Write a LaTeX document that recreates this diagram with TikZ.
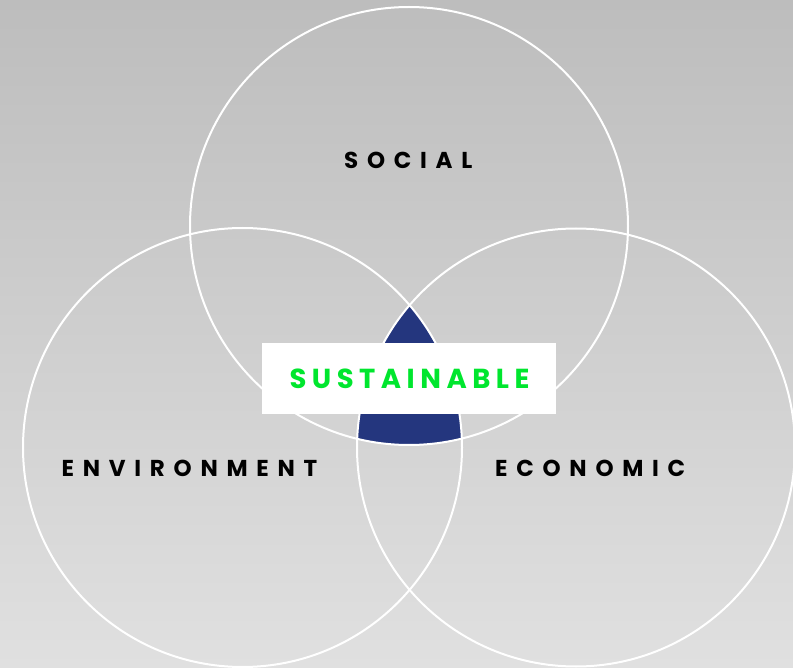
\documentclass[tikz,border=0pt]{standalone}
\usepackage{fontspec}
\newfontfamily\labfont[UprightFont={* Bold},LetterSpace=38]{Poppins}
\newfontfamily\sustfont[UprightFont={* Bold},LetterSpace=20]{Poppins}
\definecolor{bgtop}{HTML}{BDBDBD}
\definecolor{bgbot}{HTML}{E0E0E0}
\definecolor{core}{HTML}{24367E}
\definecolor{sustgreen}{HTML}{00E62E}
\tikzset{
  ring/.style={draw=white, line width=2pt},
  lab/.style={font=\labfont\fontsize{23}{23}\selectfont, text=black, inner sep=0pt},
}
\begin{document}
\begin{tikzpicture}[x=1pt,y=-1pt]
\useasboundingbox (0,0) rectangle (793,668);
\shade[top color=bgtop, bottom color=bgbot] (0,0) rectangle (793,668);
\coordinate (cs) at (409,226);
\coordinate (cl) at (242.5,447.5);
\coordinate (cr) at (576,447.5);
\begin{scope}
  \clip (cs) circle (219);
  \clip (cl) circle (219.5);
  \fill[core] (cr) circle (219);
\end{scope}
\draw[ring] (cs) circle (219);
\draw[ring] (cl) circle (219.5);
\draw[ring] (cr) circle (219);
\node[lab, anchor=west] (social) at (344,160.5) {SOCIAL};
\node[lab, anchor=west] (env) at (61.5,468) {ENVIRONMENT};
\node[lab, anchor=west] (eco) at (495,468) {ECONOMIC};
\node[fill=white, minimum width=293.5, minimum height=71, inner sep=0pt] (box) at (409,378.3) {};
\node[lab, font=\sustfont\fontsize{27.5}{27.5}\selectfont, text=sustgreen, anchor=west] (sust) at (289.3,379) {SUSTAINABLE};
\end{tikzpicture}
\end{document}
